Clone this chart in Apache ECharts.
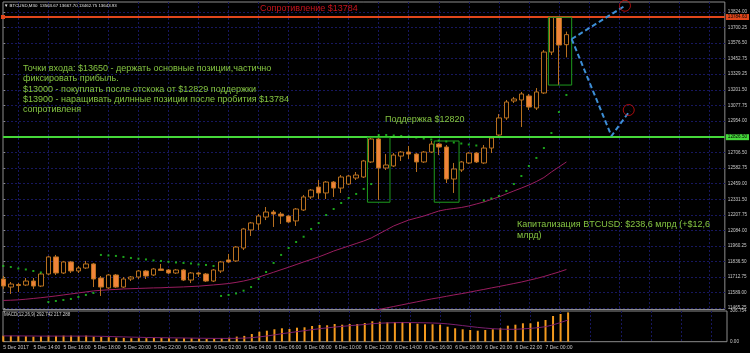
<!DOCTYPE html>
<html>
<head>
<meta charset="utf-8">
<script src="https://cdn.jsdelivr.net/npm/echarts@6/dist/echarts.min.js"></script>
<style>
html,body{margin:0;padding:0;background:#000;}
#chart{width:750px;height:353px;}
</style>
</head>
<body>
<div id="chart"></div>
<script>
// ---------- DATA (M30 bars, index 0 = 5 Dec 2017 12:00) ----------
const opens  = [11696,11632,11652,11648,11680,11640,11736,11872,11744,11832,
                11760,11784,11816,11704,11625,11728,11632,11696,11712,11760,
                11728,11776,11768,11744,11768,11688,11744,11736,11680,11760,
                11848,11840,11943,12087,12135,12190,12230,12214,12198,12159,
                12246,12350,12429,12382,12469,12421,12453,12501,12509,12629,
                12812,12581,12597,12676,12708,12692,12629,12708,12772,12748,
                12493,12565,12621,12700,12621,12740,12844,12980,13115,13123,
                13155,13059,13179,13505,13784,13563.67];
const closes = [11640,11656,11644,11680,11640,11736,11872,11744,11832,11760,
                11784,11816,11696,11632,11728,11632,11696,11712,11760,11720,
                11776,11764,11744,11768,11688,11744,11736,11680,11768,11832,
                11832,11951,12095,12143,12198,12230,12214,12198,12151,12254,
                12350,12405,12382,12469,12421,12509,12517,12525,12637,12812,
                12581,12605,12684,12708,12692,12629,12708,12772,12748,12493,
                12573,12629,12700,12629,12740,12820,12980,13107,13131,13171,
                13067,13187,13505,13784,13561,13643.93];
const lows   = [11617,11577,11593,11640,11617,11632,11728,11728,11736,11744,
                11744,11776,11632,11561,11617,11625,11625,11680,11696,11696,
                11720,11760,11736,11736,11680,11664,11712,11672,11672,11744,
                11824,11832,11927,12039,12087,12166,12111,12135,12143,12119,
                12238,12334,12334,12334,12350,12382,12445,12485,12501,12621,
                12326,12565,12589,12637,12653,12549,12621,12700,12684,12461,
                12382,12549,12613,12621,12613,12700,12828,12964,13099,12908,
                13043,13043,13171,13481,13242,13462.75];
const highs  = [11720,11672,11664,11704,11704,11744,11880,11888,11840,11840,
                11800,11840,11824,11720,11736,11736,11712,11720,11768,11768,
                11784,11816,11776,11776,11776,11752,11752,11744,11776,11840,
                11896,11959,12103,12151,12214,12270,12246,12230,12206,12262,
                12366,12413,12485,12477,12477,12525,12525,12549,12645,12820,
                12844,12692,12700,12716,12756,12700,12716,12796,12780,12764,
                12621,12637,12708,12708,12764,12828,13011,13123,13147,13187,
                13171,13218,13521,13784.63,13790,13667.70];
// Parabolic SAR
const sarValues = [11800,11792,11780,11772,11760,11748,
                   11513,11521,11529,11537,11553,11569,11585,
                   11888,11884,11880,11872,11864,11858,11852,11844,11840,11833,11828,11824,11820,11812,11808,11800,
                   11561,11569,11581,11603,11632,11696,11752,11824,11888,11943,11991,12033,12095,12142,12206,12254,12302,12342,12374,12414,12453,
                   12844,12844,12840,12836,12832,12824,12816,12808,12800,12792,12784,12776,12768,12760,
                   12322,12338,12358,12398,12453,12517,12597,12661,12740,12860,13027,13163];
// moving averages
const maFast = [11525,11527,11530,11535,11541,11547,11554,11561,11569,11577,
                11585,11593,11601,11606,11610,11613,11617,11619,11621,11623,
                11625,11626,11629,11631,11633,11636,11639,11644,11649,11654,
                11660,11669,11680,11694,11711,11730,11750,11770,11790,11811,
                11832,11852,11872,11895,11919,11939,11959,11979,11999,12023,
                12055,12087,12119,12143,12166,12182,12198,12218,12238,12250,
                12258,12266,12278,12294,12310,12330,12350,12374,12398,12421,
                12445,12473,12505,12549,12589,12629];
const maSlowStart = 47;
const maSlow = [11417,11429,11441,11453,11465,11477,11489,11501,11513,11525,
                11537,11547,11558,11569,11579,11590,11602,11613,11625,11636,
                11648,11660,11672,11686,11700,11716,11734,11752,11772];
// MACD(12,26,9)
const macdHist = [60,60,58,55,51,55,61,58,61,61,
                  58,61,51,48,45,41,38,35,35,35,
                  38,38,35,31,35,35,31,28,31,35,
                  41,51,58,77,100,110,124,134,127,140,
                  144,157,167,164,177,170,177,177,187,204,
                  200,194,197,197,190,180,174,174,170,150,
                  134,124,117,110,117,124,134,160,170,184,
                  184,200,217,257,277,292.742];
const macdSignal = [58,58,58,57,57,56,56,56,56,56,
                    56,56,55,54,52,50,48,46,44,42,
                    41,40,39,38,37,36,35,34,33,33,
                    33,34,36,40,48,57,68,80,90,100,
                    110,120,130,138,146,153,160,166,172,180,
                    185,188,190,191,191,190,189,187,184,178,
                    170,161,152,143,136,130,126,124,124,128,
                    133,140,150,168,192,217.288];
// axes
const xTickBars = [0,4,8,12,16,20,24,28,32,36,40,44,48,52,56,60,64,68,72];
const xTickLabels = ['5 Dec 2017','5 Dec 14:00','5 Dec 16:00','5 Dec 18:00','5 Dec 20:00','5 Dec 22:00',
                     '6 Dec 00:00','6 Dec 02:00','6 Dec 04:00','6 Dec 06:00','6 Dec 08:00','6 Dec 10:00',
                     '6 Dec 12:00','6 Dec 14:00','6 Dec 16:00','6 Dec 18:00','6 Dec 20:00','6 Dec 22:00','7 Dec 00:00'];
const xGridBars = [2,6,10,14,18,22,26,30,34,38,42,46,50,54,58,62,66,70,74,78,82,86,90,94];
const yTickValues = [13824.00,13700.25,13576.50,13452.75,13329.25,13201.50,13077.75,12954.00,12830.25,12706.50,
                     12582.75,12459.00,12331.50,12207.75,12084.00,11960.25,11836.50,11712.75,11589.00,11465.25];
const macdTickValues = [0, 306.754];
const macdTickLabels = ['0.00', '306.754'];
// levels and drawings
const resistance = 13784.63;
const support = 12826.50;
const lastPrice = 13643.93;
const boxes = [[48.5, 51.5, 12826, 12308], [57.4, 60.7, 12796, 12308], [72.6, 75.7, 13782, 13242]];
const forecastUp = [[75.7, 13609], [82.8, 13874]];
const forecastDown = [[75.7, 13609], [81.0, 12836], [83.45, 13037]];
const targetCircles = [[82.8, 13874], [83.3, 13043]];
const entryLines = ['Точки входа: $13650 - держать основные позиции,частично',
                    'фиксировать прибыль.',
                    '$13000 - покуплать после отскока от $12829 поддержки',
                    '$13900 - наращивать дилнные позиции после пробития $13784',
                    'сопротивленя'];
const capLines = ['Капитализация BTCUSD: $238,6 млрд (+$12,6', 'млрд)'];

// ---------- CHART ----------
const X_MIN = -0.04, X_MAX = 96.1, Y_MIN = 11453, Y_MAX = 13904, MACD_MAX = 306.754;
const GRID_COL = '#17175e';
const FONT = '"Liberation Sans", Arial, sans-serif';
const last = opens.length - 1;

const candleData = opens.map((o, i) => [i, o, closes[i], lows[i], highs[i]]);
const gridLine = {show: true, lineStyle: {color: GRID_COL, type: [2, 2], width: 1}};

const texts = [];
texts.push({type: 'text', x: 4, y: 6, z: 100, style: {
  text: '\u25BC BTCUSD,M30  ' + opens[last].toFixed(2) + ' ' + highs[last].toFixed(2) + ' ' + lows[last].toFixed(2) + ' ' + closes[last].toFixed(2),
  fill: '#e6e6e6', font: '4.4px ' + FONT, verticalAlign: 'middle', textVerticalAlign: 'middle'}});
texts.push({type: 'text', x: 4, y: 315, z: 100, style: {
  text: 'MACD(12,26,9) ' + macdHist[last].toFixed(3) + ' ' + macdSignal[last].toFixed(3),
  fill: '#d0d0d0', font: '4.5px ' + FONT, verticalAlign: 'middle', textVerticalAlign: 'middle'}});
texts.push({type: 'text', x: 260, y: 8.5, z: 100, style: {
  text: 'Сопротивление $13784', fill: '#c8141c', font: '9px ' + FONT, verticalAlign: 'middle', textVerticalAlign: 'middle'}});
texts.push({type: 'text', x: 385, y: 120, z: 100, style: {
  text: 'Поддержка $12820', fill: '#84c441', font: '9px ' + FONT, verticalAlign: 'middle', textVerticalAlign: 'middle'}});
const entryY = [68.5, 79, 89.3, 99.3, 109.3];
entryLines.forEach((t, k) => texts.push({type: 'text', x: 23, y: entryY[k], z: 100, style: {
  text: t, fill: '#84c441', font: '9px ' + FONT, verticalAlign: 'middle', textVerticalAlign: 'middle'}}));
const capY = [225, 236];
capLines.forEach((t, k) => texts.push({type: 'text', x: 517, y: capY[k], z: 100, style: {
  text: t, fill: '#84c441', font: '9px ' + FONT, verticalAlign: 'middle', textVerticalAlign: 'middle'}}));

const lvlLabel = (txt, bg, fg) => ({show: true, position: 'end', distance: 1, formatter: txt,
  backgroundColor: bg, color: fg, fontSize: 4.6, fontFamily: FONT, padding: [1, 2, 0, 2]});

const option = {
  backgroundColor: '#000000',
  animation: false,
  graphic: texts,
  grid: [
    {left: 3, right: 23, top: 2, height: 307.5, show: true, borderColor: '#8c8c8c', borderWidth: 1, backgroundColor: '#000'},
    {left: 3, right: 23, top: 311, height: 30.7, show: true, borderColor: '#8c8c8c', borderWidth: 1, backgroundColor: '#000'}
  ],
  xAxis: [
    {type: 'value', gridIndex: 0, min: X_MIN, max: X_MAX, axisLine: {show: false},
     axisLabel: {show: false}, axisTick: {show: false, customValues: xGridBars}, splitLine: gridLine},
    {type: 'value', gridIndex: 1, min: X_MIN, max: X_MAX, axisLine: {show: false},
     axisTick: {show: false, customValues: xGridBars}, splitLine: gridLine,
     axisLabel: {show: true, customValues: xTickBars, align: 'left', margin: 3, fontSize: 5, color: '#c8c8c8', fontFamily: FONT,
       formatter: v => xTickLabels[xTickBars.indexOf(Math.round(v))] || ''}}
  ],
  yAxis: [
    {type: 'value', gridIndex: 0, position: 'right', min: Y_MIN, max: Y_MAX, axisLine: {show: false},
     axisTick: {show: true, length: 2, customValues: yTickValues, lineStyle: {color: '#8c8c8c'}},
     axisLabel: {customValues: yTickValues, formatter: v => v.toFixed(2), margin: 3, fontSize: 4.6, color: '#c8c8c8', fontFamily: FONT},
     splitLine: gridLine},
    {type: 'value', gridIndex: 1, position: 'right', min: 0, max: MACD_MAX, axisLine: {show: false},
     axisTick: {show: true, length: 2, customValues: macdTickValues, lineStyle: {color: '#8c8c8c'}},
     axisLabel: {customValues: macdTickValues, formatter: v => macdTickLabels[macdTickValues.indexOf(v)] || '', margin: 3, fontSize: 4.6, color: '#c8c8c8', fontFamily: FONT},
     splitLine: {show: false}}
  ],
  series: [
    {type: 'line', xAxisIndex: 0, yAxisIndex: 0, data: maSlow.map((v, k) => [maSlowStart + k, v]),
     symbol: 'none', lineStyle: {color: '#9a1d5f', width: 1}, z: 2},
    {type: 'line', xAxisIndex: 0, yAxisIndex: 0, data: maFast.map((v, i) => [i, v]),
     symbol: 'none', lineStyle: {color: '#9a1d5f', width: 1}, z: 2},
    {type: 'candlestick', xAxisIndex: 0, yAxisIndex: 0, data: candleData, encode: {x: 0, y: [1, 2, 3, 4]},
     barWidth: 5,
     itemStyle: {color: '#000000', color0: '#f0843a', borderColor: '#b8701f', borderColor0: '#b8701f', borderWidth: 1},
     z: 3,
     markLine: {silent: true, symbol: 'none', animation: false, precision: 2,
       data: [
         {yAxis: resistance, symbol: ['rect', 'none'], symbolSize: 4,
          lineStyle: {color: '#e0461b', width: 2, type: 'solid'}, itemStyle: {color: '#e0461b'},
          label: lvlLabel(resistance.toFixed(2), '#e0461b', '#000')},
         {yAxis: support, lineStyle: {color: '#45d83a', width: 2, type: 'solid'},
          label: lvlLabel(support.toFixed(2), '#45d83a', '#000')},
         {yAxis: lastPrice, lineStyle: {color: '#ffffff', width: 0, opacity: 0},
          label: lvlLabel(lastPrice.toFixed(2), '#ffffff', '#000')}
       ]}},
    {type: 'scatter', xAxisIndex: 0, yAxisIndex: 0, data: sarValues.map((v, i) => [i, v]),
     symbol: 'rect', symbolSize: 2, itemStyle: {color: '#22cc22'}, z: 4},
    {type: 'custom', xAxisIndex: 0, yAxisIndex: 0, data: boxes, encode: {x: [0, 1], y: [2, 3]}, z: 5,
     renderItem: (params, api) => {
       const p0 = api.coord([api.value(0), api.value(2)]);
       const p1 = api.coord([api.value(1), api.value(3)]);
       return {type: 'rect', shape: {x: p0[0], y: p0[1], width: p1[0] - p0[0], height: p1[1] - p0[1]},
               style: {fill: 'none', stroke: '#1e9a1e', lineWidth: 1}};
     }},
    {type: 'line', xAxisIndex: 0, yAxisIndex: 0, data: forecastUp, symbol: 'none', z: 6,
     lineStyle: {color: '#3d8fd6', width: 2, type: [5, 3]}},
    {type: 'line', xAxisIndex: 0, yAxisIndex: 0, data: forecastDown, symbol: 'none', z: 6,
     lineStyle: {color: '#3d8fd6', width: 2, type: [5, 3]}},
    {type: 'scatter', xAxisIndex: 0, yAxisIndex: 0, data: targetCircles, symbol: 'circle', symbolSize: 11, z: 7,
     itemStyle: {color: 'rgba(0,0,0,0)', borderColor: '#d01010', borderWidth: 1}},
    {type: 'bar', xAxisIndex: 1, yAxisIndex: 1, data: macdHist.map((v, i) => [i, v]), barWidth: 2,
     itemStyle: {color: '#f39a1e'}, z: 3},
    {type: 'line', xAxisIndex: 1, yAxisIndex: 1, data: macdSignal.map((v, i) => [i, v]), symbol: 'none',
     lineStyle: {color: '#7a1e6e', width: 1}, z: 4}
  ]
};

const chart = echarts.init(document.getElementById('chart'), null, {renderer: 'canvas', width: 750, height: 353});
chart.setOption(option);
</script>
</body>
</html>
